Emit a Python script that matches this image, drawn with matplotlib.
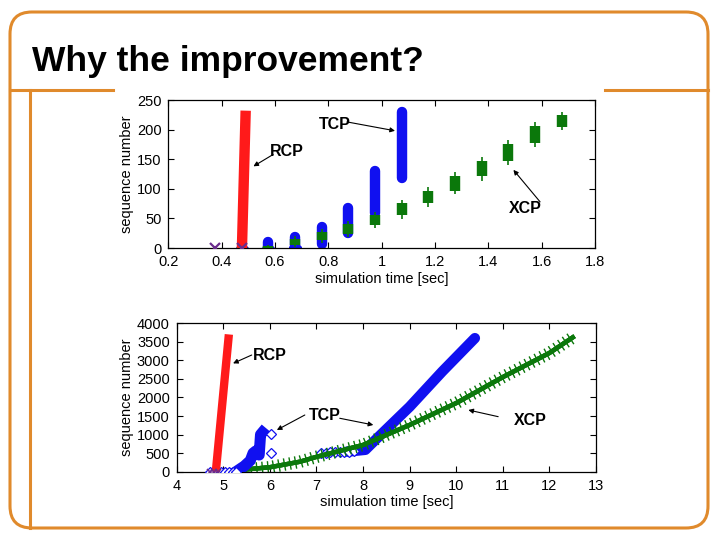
import numpy as np
import matplotlib.pyplot as plt
from matplotlib import patheffects
from matplotlib.patches import FancyBboxPatch

plt.rcParams['font.family'] = ['Liberation Sans', 'DejaVu Sans']

RED = '#ff1a1a'
BLUE = '#1010f0'
GREEN = '#0b780b'
PURPLE = '#6a2c8c'

# ---- top plot: first RTTs (time [s], sequence number) ----
rcp_top_t = [0.476, 0.490]
rcp_top_seq = [0, 232]
tcp_top_t = [0.475, 0.575, 0.675, 0.775, 0.875, 0.975, 1.075]
tcp_top_lo = [0, 0, 2, 7, 25, 59, 119]
tcp_top_hi = [2, 10, 19, 36, 67, 130, 230]
xcp_top_t = [0.475, 0.575, 0.675, 0.775, 0.875, 0.975, 1.075,
             1.175, 1.275, 1.375, 1.475, 1.575, 1.675]
xcp_box_lo = [0, 0, 5, 13.5, 23.6, 39, 55.7, 75.5, 96.8, 122, 147.5, 177, 205]
xcp_box_hi = [1, 4, 16, 27.5, 40, 55.7, 75.5, 96, 121.6, 147, 175.7, 206, 224.6]
xcp_whisk_lo = [0, 0, 1, 9, 18, 33, 48.8, 68.7, 91, 113.7, 140.7, 170, 199]
xcp_whisk_hi = [1, 5, 20, 31.6, 46, 61, 81, 103.6, 129, 154, 182, 212.5, 229]
start_top_t = [0.375, 0.475]

# ---- bottom plot: whole transfer ----
rcp_bot_t = [4.84, 5.12]
rcp_bot_seq = [0, 3700]
start_bot_t = [4.72, 4.80, 4.88, 4.96, 5.04, 5.12, 5.20, 5.28]
tcp_ss_t = [5.32, 5.45, 5.58, 5.64, 5.70, 5.77, 5.80, 5.84]
tcp_ss_seq = [40, 150, 300, 500, 560, 450, 1000, 1060]
tcp_loss_t = [6.02, 6.02]
tcp_loss_seq = [1008, 510]
tcp_idle_t = [7.10, 7.20, 7.30, 7.40, 7.50, 7.60, 7.70, 7.80]
tcp_idle_seq = [510, 515, 520, 525, 530, 535, 540, 545]
tcp_ca_t = [7.65, 8.05, 8.30, 9.00, 9.70, 10.40]
tcp_ca_seq = [540, 590, 900, 1750, 2700, 3600]
xcp_bot_t = [5.3, 6.0, 6.65, 7.0, 8.0, 9.0, 10.0, 11.0, 12.0, 12.5]
xcp_bot_seq = [40, 120, 270, 400, 720, 1260, 1850, 2550, 3200, 3620]

fig = plt.figure(figsize=(7.2, 5.4), dpi=100)

# slide frame
bg = fig.add_axes([0, 0, 1, 1], zorder=-5)
bg.set_xlim(0, 720)
bg.set_ylim(540, 0)
bg.axis('off')
orange = '#e08a2c'
bg.add_patch(FancyBboxPatch((10, 12), 698, 516, boxstyle='round,pad=0,rounding_size=22',
                            fill=False, ec=orange, lw=2.2))
bg.plot([10, 113], [90, 90], color=orange, lw=2.2)
bg.plot([605, 708], [90, 90], color=orange, lw=2.2)
bg.plot([30, 30], [90, 528], color=orange, lw=2.2)
bg.text(32, 71, 'Why the improvement?', fontsize=25.5, fontweight='bold', va='baseline')


def style(ax):
    ax.tick_params(direction='in', top=True, right=True, length=4, width=0.8,
                   labelsize=10.5, pad=5)
    for s in ax.spines.values():
        s.set_linewidth(0.9)
    ax.set_xlabel('simulation time [sec]', fontsize=10.5, labelpad=2)
    ax.set_ylabel('sequence number', fontsize=10.5, labelpad=2)


def note(ax, label, xy, xytext, start):
    ax.text(xytext[0], xytext[1], label, fontsize=11.5, fontweight='bold',
            ha='center', va='center')
    ax.annotate('', xy=xy, xytext=start,
                arrowprops=dict(arrowstyle='-|>', color='black', lw=0.8,
                                mutation_scale=7, shrinkA=0, shrinkB=0))


# ---- top axes ----
ax1 = fig.add_axes([0.2338, 0.5407, 0.5926, 0.2741])
ax1.vlines(tcp_top_t, tcp_top_lo, tcp_top_hi, color=BLUE, lw=7.5,
           capstyle='round', zorder=2)
ax1.plot(tcp_top_t[:3], [0, 0, 2], 'D', color=BLUE, ms=6, zorder=2)
ax1.vlines(xcp_top_t, xcp_whisk_lo, xcp_whisk_hi, color=GREEN, lw=1.2, zorder=3)
ax1.vlines(xcp_top_t, xcp_box_lo, xcp_box_hi, color=GREEN, lw=7.5, zorder=3)
ax1.plot(rcp_top_t, rcp_top_seq, color=RED, lw=7.5, solid_capstyle='butt', zorder=4)
ax1.plot(start_top_t, [0, 0], 'x', color=PURPLE, ms=7, mew=1.6, zorder=5)
ax1.set_xlim(0.2, 1.8)
ax1.set_ylim(0, 250)
ax1.set_xticks(np.arange(0.2, 1.81, 0.2))
ax1.set_xticklabels(['0.2', '0.4', '0.6', '0.8', '1', '1.2', '1.4', '1.6', '1.8'])
ax1.set_yticks(np.arange(0, 251, 50))
style(ax1)
note(ax1, 'RCP', (0.519, 138), (0.644, 163), (0.593, 158))
note(ax1, 'TCP', (1.05, 198), (0.825, 208), (0.87, 213))
note(ax1, 'XCP', (1.494, 132), (1.537, 67), (1.594, 78))

# ---- bottom axes ----
ax2 = fig.add_axes([0.2454, 0.1265, 0.5824, 0.2748])
ax2.plot(xcp_bot_t, xcp_bot_seq, color=GREEN, lw=3.2, zorder=2,
         path_effects=[patheffects.Normal(),
                       patheffects.withTickedStroke(angle=90, spacing=4, length=1.0, linewidth=1.0),
                       patheffects.withTickedStroke(angle=-90, spacing=4, length=1.0, linewidth=1.0)])
ax2.plot(tcp_ss_t, tcp_ss_seq, color=BLUE, lw=8, solid_joinstyle='round', zorder=3)
ax2.plot(tcp_ca_t, tcp_ca_seq, color=BLUE, lw=7.5, solid_joinstyle='round',
         solid_capstyle='round', zorder=1)
ax2.plot(tcp_idle_t, tcp_idle_seq, 'D', mfc='white', mec=BLUE, ms=5, mew=0.9, zorder=1)
ax2.plot(tcp_loss_t, tcp_loss_seq, 'D', mfc='white', mec=BLUE, ms=5, mew=0.9, zorder=3)
ax2.plot(start_bot_t, [0] * len(start_bot_t), 'D', mfc='white', mec=BLUE, ms=5, mew=0.9, zorder=3)
ax2.plot(rcp_bot_t, rcp_bot_seq, color=RED, lw=6, solid_capstyle='butt', zorder=4)
ax2.plot(start_bot_t[:3], [0, 0, 0], 'x', color=PURPLE, ms=5, mew=1.2, zorder=5)
ax2.set_xlim(4, 13)
ax2.set_ylim(0, 4000)
ax2.set_xticks(range(4, 14))
ax2.set_yticks(range(0, 4001, 500))
style(ax2)
note(ax2, 'RCP', (5.21, 2920), (6.0, 3145), (5.61, 3145))
note(ax2, 'TCP', (6.15, 1124), (7.18, 1528), (6.75, 1528))
ax2.annotate('', xy=(8.22, 1260), xytext=(7.5, 1440),
             arrowprops=dict(arrowstyle='-|>', color='black', lw=0.8,
                             mutation_scale=7, shrinkA=0, shrinkB=0))
note(ax2, 'XCP', (10.26, 1663), (11.58, 1393), (10.9, 1483))

fig.savefig('out.png', dpi=100)
